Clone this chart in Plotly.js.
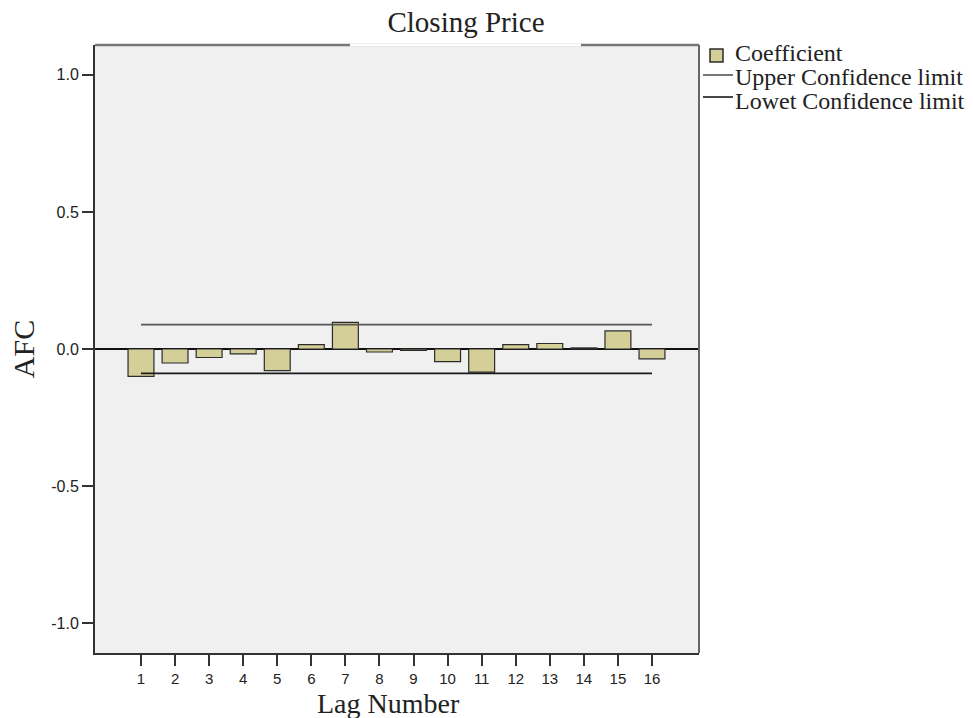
<!DOCTYPE html>
<html><head><meta charset="utf-8">
<script src="https://cdn.plot.ly/plotly-3.0.1.min.js"></script>
<style>body{margin:0;background:#fff}#chart{width:973px;height:718px}</style>
</head><body><div id="chart"></div>
<script>
const lags = [1,2,3,4,5,6,7,8,9,10,11,12,13,14,15,16];
const coefficients = [-0.100,-0.051,-0.031,-0.018,-0.079,0.016,0.097,-0.011,-0.005,-0.046,-0.084,0.016,0.020,0.004,0.066,-0.036];
const upperLimit = [0.089,0.089,0.089,0.089,0.089,0.089,0.089,0.089,0.089,0.089,0.089,0.089,0.089,0.089,0.089,0.089];
const lowerLimit = [-0.089,-0.089,-0.089,-0.089,-0.089,-0.089,-0.089,-0.089,-0.089,-0.089,-0.089,-0.089,-0.089,-0.089,-0.089,-0.089];
const yTicks = [-1.0,-0.5,0.0,0.5,1.0];
const legendLabels = ['Coefficient','Upper Confidence limit','Lowet Confidence limit'];

const serif = 'Liberation Serif, Times New Roman, serif';
const sans = 'Liberation Sans, Arial, sans-serif';
const barFill = '#d4cf99', barEdge = '#2b2b2b', upColor = '#555555', loColor = '#1a1a1a';

const traces = [
  {type:'bar', x:lags, y:coefficients, name:legendLabels[0], width:0.76,
   marker:{color:barFill, line:{color:barEdge, width:1.2}}},
  {type:'scatter', mode:'lines', x:lags, y:upperLimit, name:legendLabels[1],
   line:{color:upColor, width:1.6}},
  {type:'scatter', mode:'lines', x:lags, y:lowerLimit, name:legendLabels[2],
   line:{color:loColor, width:1.6}}
];

// manual legend (pixel positions converted to paper coords)
const L=95, T=45, W=604, H=608;
const px = x => (x-L)/W, py = y => 1-(y-T)/H;
const legendY = [53, 77, 101];
const annotations = legendLabels.map((t,i)=>({
  text:t, xref:'paper', yref:'paper', x:px(733), y:py(legendY[i]), xanchor:'left', yanchor:'middle',
  showarrow:false, font:{family:serif, size:24, color:'#222'}
}));
annotations.push({text:'Lag Number', xref:'paper', yref:'paper', x:px(388), y:py(686),
  xanchor:'center', yanchor:'top', showarrow:false, font:{family:serif, size:28, color:'#222'}});

const layout = {
  width:973, height:718,
  margin:{l:L, r:973-L-W, t:T, b:718-T-H},
  paper_bgcolor:'#ffffff', plot_bgcolor:'#f0f0f0',
  showlegend:false,
  title:{text:'Closing Price', font:{family:serif, size:29, color:'#222'},
         xref:'paper', x:px(466), xanchor:'center', yref:'container', y:1-22/718, yanchor:'middle'},
  xaxis:{range:[-0.35,17.38], tickvals:lags, ticktext:lags.map(String),
         showgrid:false, zeroline:false, showline:true, linecolor:'#333', linewidth:2,
         ticks:'outside', ticklen:11, tickwidth:2, tickcolor:'#333',
         tickfont:{family:sans, size:15, color:'#222'}},
  yaxis:{range:[-1.109,1.109], tickvals:yTicks, ticktext:yTicks.map(v=>v.toFixed(1)),
         showgrid:false, zeroline:true, zerolinecolor:'#111', zerolinewidth:1.6,
         showline:true, linecolor:'#333', linewidth:2,
         ticks:'outside', ticklen:11, tickwidth:2, tickcolor:'#333',
         tickfont:{family:sans, size:16, color:'#222'},
         title:{text:'AFC', font:{family:serif, size:30, color:'#222'}, standoff:8}},
  annotations: annotations,
  shapes:[
    {type:'line', xref:'paper', yref:'paper', x0:0, x1:1, y0:1, y1:1, line:{color:'#777', width:2.5}, layer:'above'},
    {type:'line', xref:'paper', yref:'paper', x0:1, x1:1, y0:0, y1:1, line:{color:'#666', width:2}, layer:'above'},
    {type:'line', xref:'paper', yref:'paper', x0:px(350), x1:px(581), y0:1, y1:1, line:{color:'#ffffff', width:3}, layer:'above'},
    {type:'rect', xref:'paper', yref:'paper', x0:px(710), x1:px(723), y0:py(49), y1:py(62),
     fillcolor:barFill, line:{color:barEdge, width:1.5}, layer:'above'},
    {type:'line', xref:'paper', yref:'paper', x0:px(703), x1:px(733), y0:py(75), y1:py(75), line:{color:upColor, width:1.6}, layer:'above'},
    {type:'line', xref:'paper', yref:'paper', x0:px(703), x1:px(733), y0:py(97), y1:py(97), line:{color:loColor, width:1.6}, layer:'above'}
  ]
};

Plotly.newPlot('chart', traces, layout, {displayModeBar:false, staticPlot:true});
</script></body></html>
